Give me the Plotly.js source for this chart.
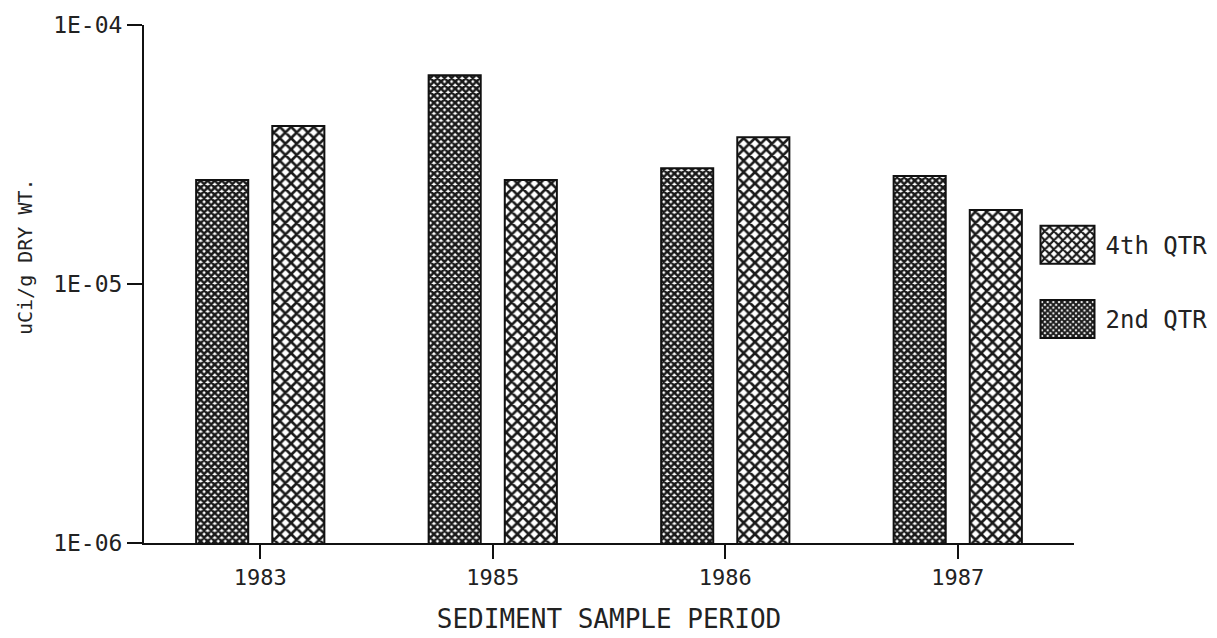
<!DOCTYPE html>
<html>
<head>
<meta charset="utf-8">
<script src="https://cdn.plot.ly/plotly-3.0.1.min.js"></script>
<style>html,body{margin:0;padding:0;background:#fff;}</style>
</head>
<body>
<div id="chart" style="width:1217px;height:638px;"></div>
<script>
const periods = ["1983", "1985", "1986", "1987"];
const qtr2 = [2.52e-5, 6.4e-5, 2.80e-5, 2.61e-5];
const qtr4 = [4.07e-5, 2.52e-5, 3.69e-5, 1.93e-5];
const yTickVals = [1e-6, 1e-5, 1e-4];
const yTickText = ["1E-06", "1E-05", "1E-04"];
const yTitle = "uCi/g DRY WT.";
const xTitle = "SEDIMENT SAMPLE PERIOD";

const FONT = "DejaVu Sans Mono, Liberation Mono, monospace";

const traces = [
  {
    type: "bar", name: "2nd QTR", x: periods, y: qtr2, legendgroup: "a", legendrank: 2,
    marker: {
      color: "white",
      line: {color: "#111", width: 2},
      pattern: {shape: "x", size: 5, solidity: 0.75, fgcolor: "#1a1a1a", bgcolor: "white"}
    }
  },
  {
    type: "bar", name: "4th QTR", x: periods, y: qtr4, legendgroup: "b", legendrank: 1,
    marker: {
      color: "white",
      line: {color: "#111", width: 2},
      pattern: {shape: "x", size: 8, solidity: 0.55, fgcolor: "#1a1a1a", bgcolor: "white"}
    }
  }
];

const layout = {
  width: 1217, height: 638,
  margin: {l: 144, r: 143, t: 25, b: 95},
  paper_bgcolor: "white", plot_bgcolor: "white",
  font: {family: FONT, color: "#222", size: 22},
  barmode: "group",
  bargap: 0.345,
  bargroupgap: 0.316,
  showlegend: true,
  legend: {
    x: (1047.5 - 144) / 930, xanchor: "left", y: 1 - (222.7 - 25) / 518, yanchor: "top",
    traceorder: "grouped", tracegroupgap: 40,
    font: {family: FONT, size: 24, color: "#222"},
    bgcolor: "rgba(0,0,0,0)"
  },
  xaxis: {
    type: "category", range: [-0.5, 3.5],
    showline: true, linecolor: "#111", linewidth: 2,
    ticks: "outside", ticklen: 14, tickwidth: 2, tickcolor: "#111",
    showgrid: false, zeroline: false,
    tickfont: {family: FONT, size: 22, color: "#222"},
    title: {text: xTitle, font: {family: FONT, size: 26, color: "#222"}, standoff: 20}
  },
  yaxis: {
    type: "log", range: [-6, -4],
    showline: true, linecolor: "#111", linewidth: 2,
    ticks: "outside", ticklen: 15, tickwidth: 2, tickcolor: "#111",
    tickvals: yTickVals, ticktext: yTickText,
    showgrid: false, zeroline: false,
    tickfont: {family: FONT, size: 23, color: "#222"}
  },
  annotations: [{
    text: yTitle, xref: "paper", yref: "paper",
    x: (25 - 144) / 930, y: 1 - (257 - 25) / 518,
    xanchor: "center", yanchor: "middle", textangle: -90, showarrow: false,
    font: {family: FONT, size: 20, color: "#222"}
  }]
};

Plotly.newPlot("chart", traces, layout, {staticPlot: true, displayModeBar: false}).then(function () {
  document.querySelectorAll(".legend .legendpoints path").forEach(function (p) {
    p.setAttribute("d", "M27,19H-27V-19H27Z");
  });
  document.querySelectorAll(".legend text.legendtext").forEach(function (t) {
    t.setAttribute("x", "58");
  });
  document.querySelectorAll(".legend [clip-path]").forEach(function (g) {
    g.removeAttribute("clip-path");
  });
});
</script>
</body>
</html>
